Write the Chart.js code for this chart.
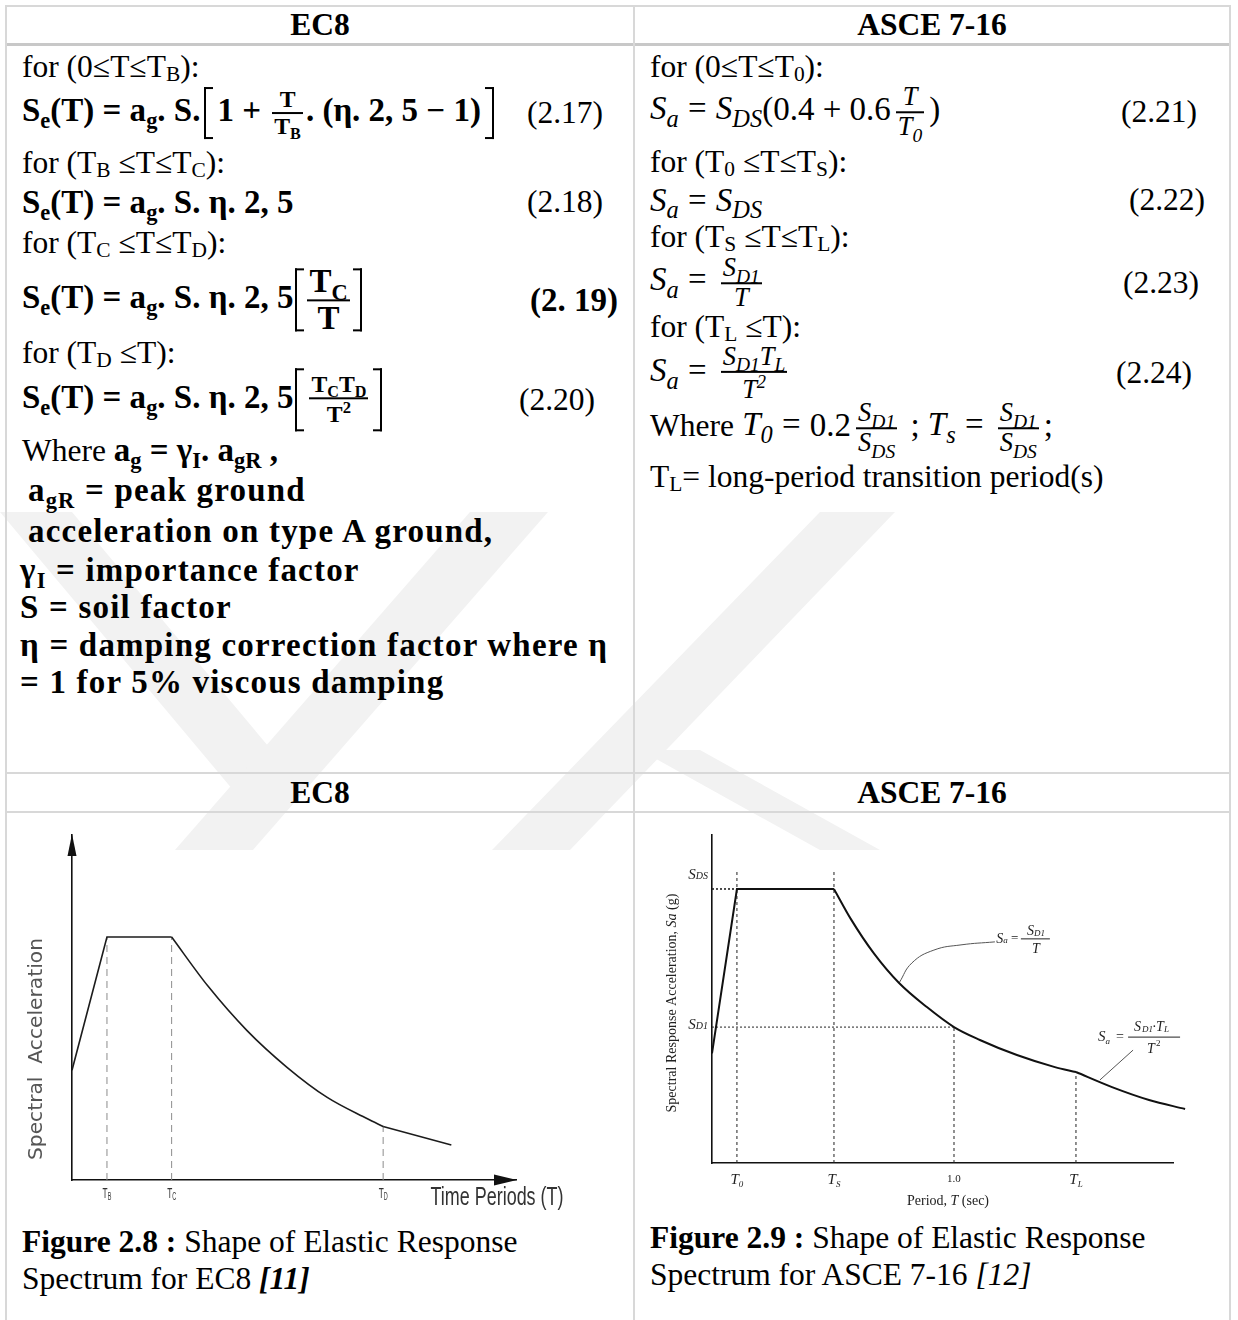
<!DOCTYPE html>
<html>
<head>
<meta charset="utf-8">
<script src="https://cdn.jsdelivr.net/npm/chart.js@4.4.1/dist/chart.umd.min.js"></script>
<style>
html, body { margin: 0; padding: 0; background: #fff; }
#page { position: relative; width: 1238px; height: 1320px; overflow: hidden; font-family: 'Liberation Serif', 'Times New Roman', serif; color: #000; }
.wm { position: absolute; left: 0; top: 0; }
.rule { position: absolute; background: #d8d8d8; }
.ln { position: absolute; white-space: nowrap; font-size: 31.5px; line-height: 1; transform: translateY(-50%); }
.hd { position: absolute; white-space: nowrap; font-weight: bold; font-size: 31.5px; line-height: 1; transform: translate(-50%, -50%); }
.eq { position: absolute; white-space: nowrap; font-size: 31.5px; line-height: 1; transform: translate(-100%, -50%); }
.bm { font-weight: bold; font-size: 33px; }
.bt { font-weight: bold; font-size: 33px; letter-spacing: 1.2px; }
.it { font-style: italic; }
.mm { font-size: 33px; }
.op { margin: 0 0.28em; }
sub { font-size: 0.68em; vertical-align: -0.16em; line-height: 0; }
.bm sub, .bt sub, .it sub { vertical-align: -0.32em; }
.mm .it sub { font-size: 0.74em; }
.fr { display: inline-block; vertical-align: middle; text-align: center; font-size: 0.72em; line-height: 1.05; margin: 0 3px; }
.fr > span { display: block; padding: 0 2px; }
.fr > .nu { border-bottom: 2px solid #000; }
.fr.big { font-size: 1em; margin: 0 1px; }
.fr.md { font-size: 0.8em; margin: 0 5px; }
.lb, .rb { display: inline-block; width: 7px; height: 1.45em; border: 2.5px solid #000; vertical-align: middle; margin: 0 4px; }
.lb { border-right: none; }
.rb { border-left: none; }
.tall { height: 1.8em; margin: 0 2px; }
canvas { position: absolute; }
</style>
</head>
<body>
<div id="page">
  <svg class="wm" width="1238" height="1320">
    <defs><clipPath id="wmclip"><rect x="0" y="505" width="1238" height="345"/></clipPath></defs>
    <g fill="#f2f2f2" clip-path="url(#wmclip)">
      <polygon points="0,512 72,512 305,790 233,790"/>
      <polygon points="470,512 548,512 170,945 92,945"/>
      <polygon points="820,512 895,512 570,850 492,850"/>
      <polygon points="640,750 700,750 880,850 820,850"/>
    </g>
  </svg>

  <div class="rule" style="left:5px; top:5px; width:1226px; height:2px;"></div>
  <div class="rule" style="left:5px; top:43px; width:1226px; height:3px; background:#c8c8c8;"></div>
  <div class="rule" style="left:5px; top:772px; width:1226px; height:2px;"></div>
  <div class="rule" style="left:5px; top:811px; width:1226px; height:2px;"></div>
  <div class="rule" style="left:5px; top:5px; width:2px; height:1315px;"></div>
  <div class="rule" style="left:633px; top:5px; width:2px; height:1315px;"></div>
  <div class="rule" style="left:1229px; top:5px; width:2px; height:1315px;"></div>

  <div class="hd" style="left:320px; top:25px;">EC8</div>
  <div class="hd" style="left:932px; top:25px;">ASCE 7-16</div>
  <div class="hd" style="left:320px; top:793px;">EC8</div>
  <div class="hd" style="left:932px; top:793px;">ASCE 7-16</div>

  <!-- EC8 formulas -->
  <div class="ln" style="left:22px; top:67px;">for (0≤T≤T<sub>B</sub>):</div>
  <div class="ln bm" style="left:22px; top:113px;">S<sub>e</sub>(T) = a<sub>g</sub>. S.<span class="lb"></span>1 + <span class="fr"><span class="nu">T</span><span class="de">T<sub>B</sub></span></span>. (η. 2, 5 − 1)<span class="rb"></span></div>
  <div class="eq" style="left:603px; top:113px;">(2.17)</div>
  <div class="ln" style="left:22px; top:163px;">for (T<sub>B</sub> ≤T≤T<sub>C</sub>):</div>
  <div class="ln bm" style="left:22px; top:202px;">S<sub>e</sub>(T) = a<sub>g</sub>. S. η. 2, 5</div>
  <div class="eq" style="left:603px; top:202px;">(2.18)</div>
  <div class="ln" style="left:22px; top:243px;">for (T<sub>C</sub> ≤T≤T<sub>D</sub>):</div>
  <div class="ln bm" style="left:22px; top:300px;">S<sub>e</sub>(T) = a<sub>g</sub>. S. η. 2, 5<span class="lb tall"></span><span class="fr big"><span class="nu">T<sub>C</sub></span><span class="de">T</span></span><span class="rb tall"></span></div>
  <div class="eq" style="left:618px; top:300px; font-weight:bold; font-size:33px;">(2. 19)</div>
  <div class="ln" style="left:22px; top:353px;">for (T<sub>D</sub> ≤T):</div>
  <div class="ln bm" style="left:22px; top:400px;">S<sub>e</sub>(T) = a<sub>g</sub>. S. η. 2, 5<span class="lb tall"></span><span class="fr"><span class="nu">T<sub>C</sub>T<sub>D</sub></span><span class="de">T<sup style="font-size:0.7em">2</sup></span></span><span class="rb tall"></span></div>
  <div class="eq" style="left:595px; top:400px;">(2.20)</div>
  <div class="ln" style="left:22px; top:450px;">Where <span class="bm">a<sub>g</sub> = γ<sub>I</sub>. a<sub>gR</sub> ,</span></div>
  <div class="ln bt" style="left:28px; top:490px;">a<sub>gR</sub> = peak ground</div>
  <div class="ln bt" style="left:28px; top:531px;">acceleration on type A ground,</div>
  <div class="ln bt" style="left:20px; top:570px;">γ<sub>I</sub> = importance factor</div>
  <div class="ln bt" style="left:20px; top:607px;">S = soil factor</div>
  <div class="ln bt" style="left:20px; top:645px;">η = damping correction factor where η</div>
  <div class="ln bt" style="left:20px; top:682px;">= 1 for 5% viscous damping</div>

  <!-- ASCE formulas -->
  <div class="ln" style="left:650px; top:67px;">for (0≤T≤T<sub>0</sub>):</div>
  <div class="ln mm" style="left:650px; top:112px;"><span class="it">S<sub>a</sub></span><span class="op">=</span><span class="it">S<sub>DS</sub></span>(0.4 + 0.6<span class="fr md it"><span class="nu">T</span><span class="de">T<sub>0</sub></span></span>)</div>
  <div class="eq" style="left:1197px; top:112px;">(2.21)</div>
  <div class="ln" style="left:650px; top:162px;">for (T<sub>0</sub> ≤T≤T<sub>S</sub>):</div>
  <div class="ln mm" style="left:650px; top:200px;"><span class="it">S<sub>a</sub></span><span class="op">=</span><span class="it">S<sub>DS</sub></span></div>
  <div class="eq" style="left:1205px; top:200px;">(2.22)</div>
  <div class="ln" style="left:650px; top:237px;">for (T<sub>S</sub> ≤T≤T<sub>L</sub>):</div>
  <div class="ln mm" style="left:650px; top:283px;"><span class="it">S<sub>a</sub></span><span class="op">=</span><span class="fr md it"><span class="nu">S<sub>D1</sub></span><span class="de">T</span></span></div>
  <div class="eq" style="left:1199px; top:283px;">(2.23)</div>
  <div class="ln" style="left:650px; top:327px;">for (T<sub>L</sub> ≤T):</div>
  <div class="ln mm" style="left:650px; top:373px;"><span class="it">S<sub>a</sub></span><span class="op">=</span><span class="fr md it"><span class="nu">S<sub>D1</sub>T<sub>L</sub></span><span class="de">T<sup style="font-size:0.7em">2</sup></span></span></div>
  <div class="eq" style="left:1192px; top:373px;">(2.24)</div>
  <div class="ln mm" style="left:650px; top:428px;"><span style="font-size:31.5px">Where</span> <span class="it">T<sub>0</sub></span><span class="op">=</span>0.2<span class="fr md it"><span class="nu">S<sub>D1</sub></span><span class="de">S<sub>DS</sub></span></span>&nbsp;;&nbsp;<span class="it">T<sub>s</sub></span><span class="op">=</span><span class="fr md it"><span class="nu">S<sub>D1</sub></span><span class="de">S<sub>DS</sub></span></span>;</div>
  <div class="ln" style="left:650px; top:477px;">T<sub>L</sub>= long-period transition period(s)</div>

  <canvas id="ec8" width="544" height="405" style="left:21px; top:813px;"></canvas>
  <canvas id="asce" width="580" height="402" style="left:645px; top:813px;"></canvas>

  <div class="ln" style="left:22px; top:1242px;"><b>Figure 2.8 :</b> Shape of Elastic Response</div>
  <div class="ln" style="left:22px; top:1279px;">Spectrum for EC8 <b><i>[11]</i></b></div>
  <div class="ln" style="left:650px; top:1238px;"><b>Figure 2.9 :</b> Shape of Elastic Response</div>
  <div class="ln" style="left:650px; top:1275px;">Spectrum for ASCE 7-16 <i>[12]</i></div>
</div>

<script>
// EC8 elastic spectrum shape (T in s, Se normalised so the plateau is eta*2.5)
const ec8RiseT = [0, 0.2, 0.57];
const ec8RiseSa = [1.13, 2.5, 2.5];
const ec8DecayT = [0.57, 0.78, 1.0, 1.23, 1.46, 1.69, 1.78];
const ec8DecaySa = [2.5, 1.99, 1.54, 1.16, 0.85, 0.63, 0.55];
const ec8TailT = [1.78, 2.17];
const ec8TailSa = [0.55, 0.36];
const ec8MarkT = [0.2, 0.57, 1.78];
const ec8MarkSa = [2.5, 2.5, 0.55];
const ec8TickLabels = ['T_B', 'T_C', 'T_D'];

// ASCE 7-16 design spectrum shape (Sa normalised so S_DS = 1)
const asceRiseT = [0, 0.103, 0.504];
const asceRiseSa = [0.40, 1.0, 1.0];
const asceDecayT = [0.504, 0.574, 0.669, 0.773, 0.888, 1.0, 1.107, 1.26, 1.417, 1.504];
const asceDecaySa = [1.0, 0.89, 0.765, 0.657, 0.569, 0.496, 0.449, 0.394, 0.350, 0.332];
const asceTailT = [1.504, 1.653, 1.806, 1.955];
const asceTailSa = [0.332, 0.277, 0.230, 0.197];
const asceMarkT = [0.103, 0.504, 1.0, 1.504];
const asceMarkTop = [1.062, 1.062, 0.496, 0.332];
const asceTickLabels = ['T_0', 'T_S', '1.0', 'T_L'];
const asceLevelSa = [1.0, 0.496];
const asceLevelEnd = [0.103, 1.0];
const asceLevelLabels = ['S_DS', 'S_D1'];
const leader1T = [0.773, 0.826, 0.917, 1.029, 1.169];
const leader1Sa = [0.657, 0.730, 0.777, 0.796, 0.807];
const leader2T = [1.603, 1.74];
const leader2Sa = [0.303, 0.412];

function pts(xs, ys) {
    return xs.map(function (x, i) { return { x: x, y: ys[i] }; });
}

function line(data, color, width, extra) {
    return Object.assign({
        data: data, borderColor: color, borderWidth: width,
        pointRadius: 0, fill: false, tension: 0
    }, extra || {});
}

// text with an optional subscript part after "_"; sx squeezes it horizontally
function subLabel(ctx, label, x, y, font, subFont, drop, align, sx) {
    var parts = label.split('_');
    sx = sx || 1;
    ctx.font = font;
    var wb = ctx.measureText(parts[0]).width;
    var ws = 0;
    if (parts[1]) { ctx.font = subFont; ws = ctx.measureText(parts[1]).width; }
    var w = (wb + ws) * sx;
    var x0 = align === 'right' ? x - w : x - w / 2;
    ctx.save();
    ctx.translate(x0, y);
    ctx.scale(sx, 1);
    ctx.textAlign = 'left';
    ctx.font = font;
    ctx.fillText(parts[0], 0, 0);
    if (parts[1]) { ctx.font = subFont; ctx.fillText(parts[1], wb, drop); }
    ctx.restore();
}

function fitText(ctx, text, cx, cy, width, font, angle) {
    ctx.save();
    ctx.font = font;
    var w = ctx.measureText(text).width;
    ctx.translate(cx, cy);
    if (angle) ctx.rotate(angle);
    ctx.scale(width / w, 1);
    ctx.textAlign = 'center';
    ctx.fillText(text, 0, 0);
    ctx.restore();
}

function runs(ctx, list, cx, cy) {
    var total = 0;
    list.forEach(function (r) { ctx.font = r.f; r.w = ctx.measureText(r.t).width; total += r.w; });
    var x = cx - total / 2;
    ctx.textAlign = 'left';
    list.forEach(function (r) { ctx.font = r.f; ctx.fillText(r.t, x, cy + (r.dy || 0)); x += r.w; });
}

var ec8Deco = {
    id: 'ec8Deco',
    afterDraw: function (chart) {
        var ctx = chart.ctx, a = chart.chartArea, xs = chart.scales.x;
        ctx.save();
        ctx.fillStyle = '#111';
        ctx.beginPath();
        ctx.moveTo(a.left, a.top - 1);
        ctx.lineTo(a.left - 4.5, a.top + 21);
        ctx.lineTo(a.left + 4.5, a.top + 21);
        ctx.closePath();
        ctx.fill();
        ctx.beginPath();
        ctx.moveTo(a.right + 1, a.bottom);
        ctx.lineTo(a.right - 22, a.bottom - 5.5);
        ctx.lineTo(a.right - 22, a.bottom + 5.5);
        ctx.closePath();
        ctx.fill();

        ctx.fillStyle = '#333';
        ctx.textBaseline = 'middle';
        ec8MarkT.forEach(function (t, i) {
            subLabel(ctx, ec8TickLabels[i], xs.getPixelForValue(t), a.bottom + 14,
                '15px "Liberation Sans"', '10px "Liberation Sans"', 3, 'center', 0.55);
        });
        fitText(ctx, 'Time Periods (T)', a.right - 19, a.bottom + 18, 133, '25px "Liberation Sans"');
        ctx.fillStyle = '#555';
        fitText(ctx, 'Spectral  Acceleration', a.left - 35, a.bottom - 131, 222, '20px "DejaVu Sans"', -Math.PI / 2);
        ctx.restore();
    }
};

var asceDeco = {
    id: 'asceDeco',
    afterDraw: function (chart) {
        var ctx = chart.ctx, a = chart.chartArea, xs = chart.scales.x, ys = chart.scales.y;
        ctx.save();
        ctx.fillStyle = '#222';
        ctx.textBaseline = 'middle';
        asceMarkT.forEach(function (t, i) {
            var lab = asceTickLabels[i];
            if (lab.indexOf('_') < 0) {
                ctx.font = '11px "Liberation Serif"';
                ctx.textAlign = 'center';
                ctx.fillText(lab, xs.getPixelForValue(t), a.bottom + 16);
            } else {
                subLabel(ctx, lab, xs.getPixelForValue(t), a.bottom + 17,
                    'italic 15px "Liberation Serif"', 'italic 9px "Liberation Serif"', 5, 'center');
            }
        });
        var offs = [-14, -2];
        asceLevelSa.forEach(function (v, i) {
            subLabel(ctx, asceLevelLabels[i], a.left - 4, ys.getPixelForValue(v) + offs[i],
                'italic 15px "Liberation Serif"', 'italic 10px "Liberation Serif"', 1, 'right');
        });
        runs(ctx, [
            { t: 'Period, ', f: '14px "Liberation Serif"' },
            { t: 'T', f: 'italic 14px "Liberation Serif"' },
            { t: ' (sec)', f: '14px "Liberation Serif"' }
        ], a.left + 236, a.bottom + 38);

        ctx.save();
        ctx.translate(a.left - 40, a.top + 168);
        ctx.rotate(-Math.PI / 2);
        runs(ctx, [
            { t: 'Spectral Response Acceleration, ', f: '14px "Liberation Serif"' },
            { t: 'Sa', f: 'italic 14px "Liberation Serif"' },
            { t: ' (g)', f: '14px "Liberation Serif"' }
        ], 0, 0);
        ctx.restore();

        // annotation Sa = SD1 / T at the end of the first leader
        var p = { x: xs.getPixelForValue(leader1T[leader1T.length - 1]), y: ys.getPixelForValue(leader1Sa[leader1Sa.length - 1]) };
        subLabel(ctx, 'S_a', p.x + 7, p.y - 3, 'italic 14px "Liberation Serif"', 'italic 9px "Liberation Serif"', 2, 'center');
        ctx.font = '13px "Liberation Serif"';
        ctx.textAlign = 'left';
        ctx.fillText('=', p.x + 16, p.y - 3);
        ctx.fillRect(p.x + 26, p.y - 3.5, 29, 1);
        subLabel(ctx, 'S_D1', p.x + 41, p.y - 11, 'italic 14px "Liberation Serif"', 'italic 9px "Liberation Serif"', 3, 'center');
        subLabel(ctx, 'T', p.x + 41, p.y + 7, 'italic 14px "Liberation Serif"', '', 0, 'center');

        // annotation Sa = SD1.TL / T^2 at the end of the second leader
        var q = { x: xs.getPixelForValue(leader2T[1]), y: ys.getPixelForValue(leader2Sa[1]) };
        subLabel(ctx, 'S_a', q.x - 29, q.y - 13, 'italic 15px "Liberation Serif"', 'italic 9px "Liberation Serif"', 5, 'center');
        ctx.font = '14px "Liberation Serif"';
        ctx.textAlign = 'left';
        ctx.fillText('=', q.x - 17, q.y - 13);
        ctx.fillRect(q.x - 5, q.y - 13.5, 52, 1);
        ctx.font = 'italic 14px "Liberation Serif"';
        var nx = q.x + 1;
        ctx.fillText('S', nx, q.y - 23);
        ctx.font = 'italic 9px "Liberation Serif"';
        ctx.fillText('D1', nx + 8, q.y - 20);
        ctx.font = '14px "Liberation Serif"';
        ctx.fillText('·', nx + 18, q.y - 23);
        ctx.font = 'italic 14px "Liberation Serif"';
        ctx.fillText('T', nx + 22, q.y - 23);
        ctx.font = 'italic 9px "Liberation Serif"';
        ctx.fillText('L', nx + 30, q.y - 20);
        ctx.font = 'italic 14px "Liberation Serif"';
        ctx.fillText('T', q.x + 14, q.y - 1);
        ctx.font = '9px "Liberation Serif"';
        ctx.fillText('2', q.x + 23, q.y - 6);
        ctx.restore();
    }
};

function axisOpts(max, size, isX) {
    return {
        type: 'linear', min: 0, max: max,
        grid: { display: false, drawTicks: false },
        border: { display: true, color: '#111', width: 1.6 },
        ticks: { display: false },
        afterFit: function (s) { if (isX) { s.height = size; } else { s.width = size; } }
    };
}

var ec8Sets = [
    line(pts(ec8RiseT, ec8RiseSa), '#1c1c1c', 1.6),
    line(pts(ec8DecayT, ec8DecaySa), '#1c1c1c', 1.6, { cubicInterpolationMode: 'monotone' }),
    line(pts(ec8TailT, ec8TailSa), '#1c1c1c', 1.6)
];
ec8MarkT.forEach(function (t, i) {
    ec8Sets.push(line([{ x: t, y: 0 }, { x: t, y: ec8MarkSa[i] }], '#8c8c8c', 1, { borderDash: [7, 5] }));
});

new Chart(document.getElementById('ec8'), {
    type: 'line',
    data: { datasets: ec8Sets },
    options: {
        responsive: false, animation: false,
        layout: { padding: { top: 22, right: 49, left: 0, bottom: 0 } },
        plugins: { legend: { display: false }, tooltip: { enabled: false } },
        scales: { x: axisOpts(2.54, 38, true), y: axisOpts(3.55, 51, false) }
    },
    plugins: [ec8Deco]
});

var asceSets = [
    line(pts(asceRiseT, asceRiseSa), '#111', 2, { clip: false }),
    line(pts(asceDecayT, asceDecaySa), '#111', 2, { cubicInterpolationMode: 'monotone', clip: false }),
    line(pts(asceTailT, asceTailSa), '#111', 2, { cubicInterpolationMode: 'monotone', clip: false }),
    line(pts(leader1T, leader1Sa), '#555', 1, { tension: 0.45 }),
    line(pts(leader2T, leader2Sa), '#555', 1)
];
asceMarkT.forEach(function (t, i) {
    asceSets.push(line([{ x: t, y: 0 }, { x: t, y: asceMarkTop[i] }], '#222', 1, { borderDash: [3, 3] }));
});
asceLevelSa.forEach(function (v, i) {
    asceSets.push(line([{ x: 0, y: v }, { x: asceLevelEnd[i], y: v }], '#222', i === 0 ? 1.6 : 1, { borderDash: [2, 2] }));
});

new Chart(document.getElementById('asce'), {
    type: 'line',
    data: { datasets: asceSets },
    options: {
        responsive: false, animation: false,
        layout: { padding: { top: 22, right: 52, left: 0, bottom: 0 } },
        plugins: { legend: { display: false }, tooltip: { enabled: false } },
        scales: { x: axisOpts(1.905, 52, true), y: axisOpts(1.197, 67, false) }
    },
    plugins: [asceDeco]
});
</script>
</body>
</html>
